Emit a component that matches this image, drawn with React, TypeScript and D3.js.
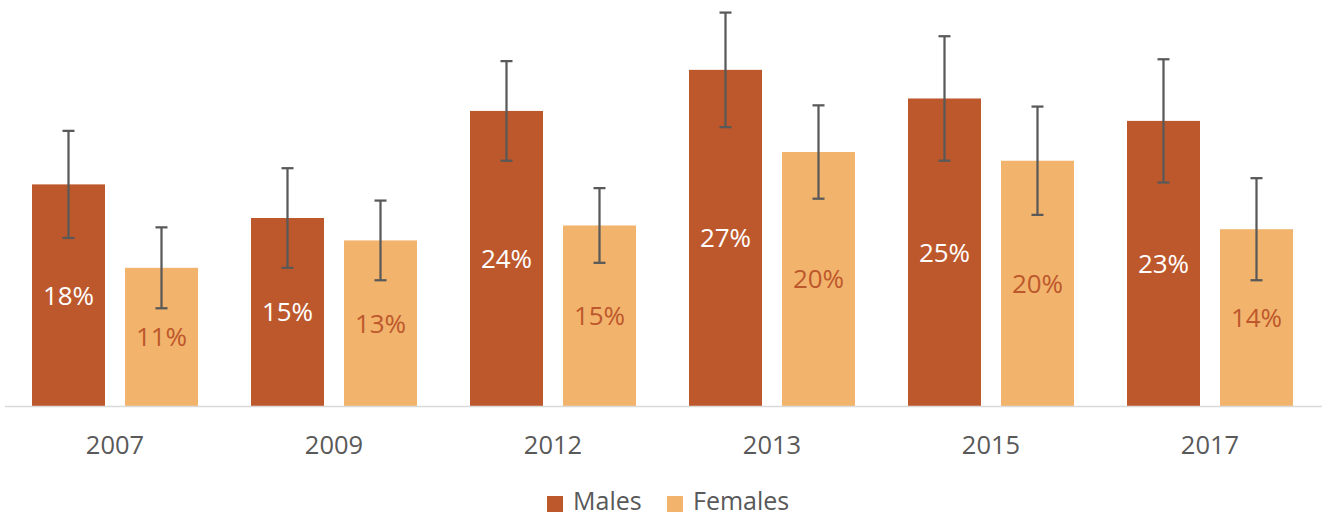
import React from "react";
import * as d3 from "d3";

const years = ["2007", "2009", "2012", "2013", "2015", "2017"];
const series = ["Males", "Females"];
const malesValues = [17.8, 15.1, 23.7, 27.0, 24.7, 22.9];
const femalesValues = [11.1, 13.3, 14.5, 20.4, 19.7, 14.2];
const malesErrors = [4.3, 4.0, 4.0, 4.6, 5.0, 4.95];
const femalesErrors = [3.25, 3.2, 3.0, 3.75, 4.35, 4.1];
const colors = ["#BD582C", "#F2B46C"];
const labelColors = ["#FFFFFF", "#BD582C"];

const W = 1322;
const H = 517;
const FONT = "'Open Sans', sans-serif";

export default function App() {
  const x0 = d3.scaleBand<string>().domain(years).range([5.5, 1319.5]).padding(0);
  const x1 = d3
    .scaleBand<string>()
    .domain(series)
    .range([0, x0.bandwidth()])
    .paddingInner(20 / 93)
    .paddingOuter(26.5 / 93);
  const y = d3.scaleLinear().domain([0, 32]).range([406, 406 - 32 * 12.45]);

  const valuesBySeries = [malesValues, femalesValues];
  const errorsBySeries = [malesErrors, femalesErrors];
  const fmt = d3.format(".0f");

  return (
    <svg
      width={W}
      height={H}
      style={{ position: "absolute", left: 0, top: 0, background: "#fff" }}
      fontFamily={FONT}
    >
      {years.map((yr, i) => (
        <g key={yr} transform={`translate(${x0(yr)},0)`}>
          {series.map((s, si) => {
            const v = valuesBySeries[si][i];
            const e = errorsBySeries[si][i];
            const bx = x1(s)!;
            const bw = x1.bandwidth();
            const cx = bx + bw / 2;
            return (
              <g key={s}>
                <rect x={bx} y={y(v)} width={bw} height={y(0) - y(v)} fill={colors[si]} />
                <text
                  x={cx}
                  y={(y(v) + y(0)) / 2}
                  dy="0.36em"
                  textAnchor="middle"
                  fontSize={26}
                  fill={labelColors[si]}
                >
                  {fmt(v)}%
                </text>
                <line x1={cx} x2={cx} y1={y(v + e)} y2={y(v - e)} stroke="#595959" strokeWidth={2.25} />
                <line x1={cx - 6} x2={cx + 6} y1={y(v + e)} y2={y(v + e)} stroke="#595959" strokeWidth={2.25} />
                <line x1={cx - 6} x2={cx + 6} y1={y(v - e)} y2={y(v - e)} stroke="#595959" strokeWidth={2.25} />
              </g>
            );
          })}
          <text
            x={x0.bandwidth() / 2}
            y={444.5}
            dy="0.36em"
            textAnchor="middle"
            fontSize={25.5}
            fill="#595959"
          >
            {yr}
          </text>
        </g>
      ))}
      <line x1={5} x2={1322} y1={y(0) + 0.5} y2={y(0) + 0.5} stroke="#D9D9D9" strokeWidth={1.5} />
      {series.map((s, si) => {
        const lx = [547, 667][si];
        return (
          <g key={s}>
            <rect x={lx} y={496} width={16} height={16} fill={colors[si]} />
            <text x={lx + 26} y={510} fontSize={25} fill="#595959">
              {s}
            </text>
          </g>
        );
      })}
    </svg>
  );
}
